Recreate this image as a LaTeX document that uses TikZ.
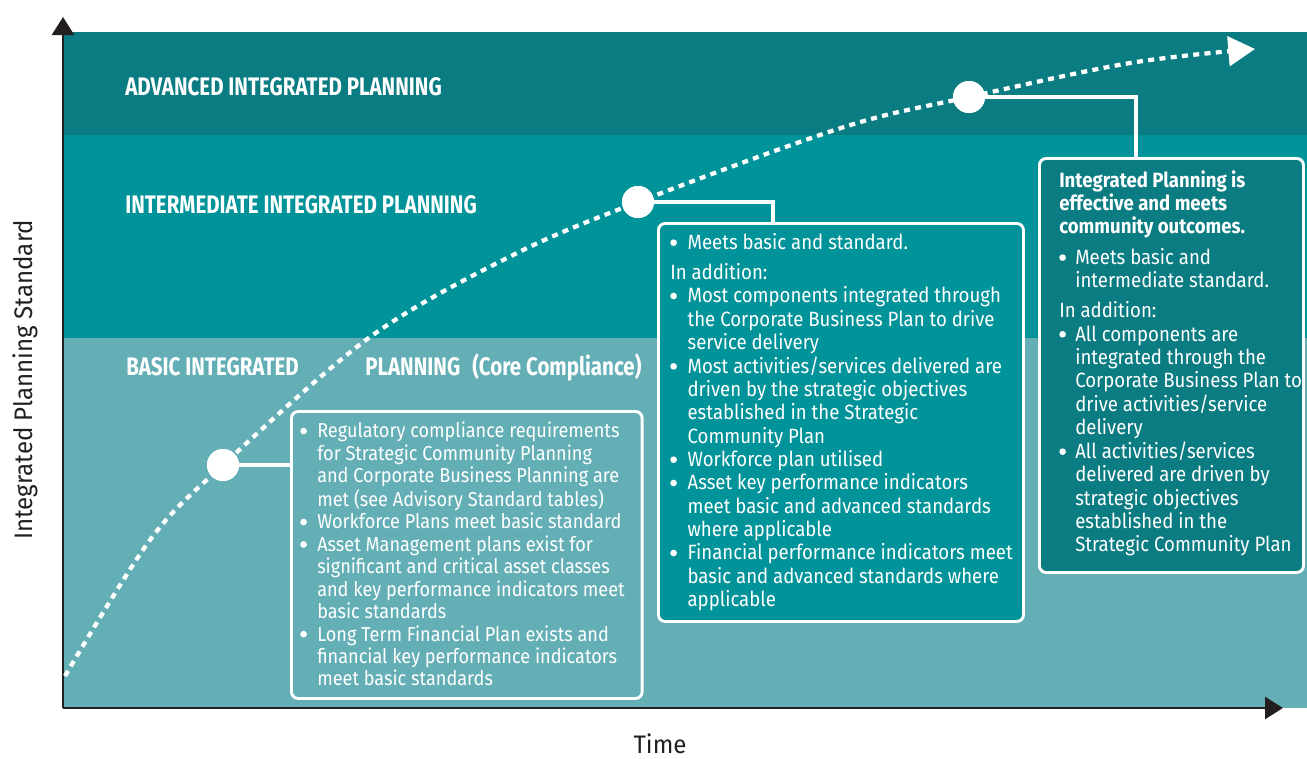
\documentclass[tikz,border=0pt]{standalone}
\usepackage{fontspec}
\setmainfont{Fira Sans}[FakeStretch=0.9]
\newfontfamily\bandfont{Fira Sans}[FakeStretch=0.81]
\newfontfamily\axisfont{Fira Sans}[FakeStretch=0.95]
\usetikzlibrary{arrows.meta}
\definecolor{bandtop}{RGB}{11,124,130}
\definecolor{bandmid}{RGB}{0,147,153}
\definecolor{bandlow}{RGB}{100,175,181}
\definecolor{axisk}{RGB}{35,31,32}
% round list marker
\newcommand\dotitem{\tikz[baseline={(0,-5.2pt)}]\fill[white] (0,0) circle (2.5pt);}
\begin{document}
\begin{tikzpicture}[x=0.75pt,y=-0.75pt,
  bandlabel/.style={text=white, anchor=base west, inner sep=0,
    font=\bandfont\bfseries\fontsize{19}{22}\selectfont},
  axislabel/.style={text=axisk, inner sep=0, font=\axisfont\fontsize{19}{22}\selectfont},
  axisline/.style={draw=axisk, line width=2pt, -{Triangle[length=13.5pt,width=16.5pt]}},
  stage/.style={circle, fill=white, inner sep=0, minimum size=24pt},
  link/.style={draw=white, line width=2.6pt},
  card/.style={draw=white, line width=2.2pt, rounded corners=5pt, anchor=north west, inner sep=0},
  cardtext/.style={text=white, anchor=north west, inner sep=0, align=left,
    font=\fontsize{15.5}{17.5}\selectfont},
  trend/.style={draw=white, line width=3.2pt, dash pattern=on 4.5pt off 4pt,
    -{Triangle[length=20pt,width=22pt,fill=white]}},
]
\useasboundingbox (0,0) rectangle (1307,758);

% background bands
\fill[bandtop] (63,32) rectangle (1307,135);
\fill[bandmid] (63,135) rectangle (1307,338);
\fill[bandlow] (63,338) rectangle (1307,708);

% band titles
\node[bandlabel] (tadv) at (125,95) {ADVANCED INTEGRATED PLANNING};
\node[bandlabel] (tint) at (125,213) {INTERMEDIATE INTEGRATED PLANNING};
\node[bandlabel] (tbas) at (126,375) {BASIC INTEGRATED};
\node[bandlabel] (tcore) at (365,375) {PLANNING\hspace{9pt}(Core Compliance)};

% axes
\coordinate (origin) at (63,708);
\coordinate (ytip) at (63,17);
\coordinate (xtip) at (1283,708);
\draw[axisline] (origin) -- (ytip);
\draw[axisline] (origin) -- (xtip);
\node[axislabel, rotate=90] (ylab) at (25,380) {Integrated Planning Standard};
\node[axislabel] (xlab) at (660,744) {Time};

% stage markers on the trend
\node[stage] (s1) at (223,465) {};
\node[stage] (s2) at (638,202) {};
\node[stage] (s3) at (969,97) {};
\coordinate (t0) at (65,676);
\coordinate (t1) at (150,540);
\coordinate (t2) at (370,337);
\coordinate (t3) at (513,255);
\coordinate (t4) at (844,127);
\coordinate (t5) at (1130,63);
\coordinate (tend) at (1255,49);
\draw[trend] plot[smooth, tension=0.55] coordinates
  {(t0) (t1) (s1.center) (t2) (t3) (s2.center) (t4) (s3.center) (t5) (tend)};
\node[stage] at (s1) {};
\node[stage] at (s2) {};
\node[stage] at (s3) {};

% description cards
\node[card, fill=bandlow, minimum width=263pt, minimum height=215.25pt] (b1) at (290,410) {};
\node[card, fill=bandmid, minimum width=273.75pt, minimum height=298.5pt] (b2) at (657,222) {};
\node[card, fill=bandtop, minimum width=198pt, minimum height=310.5pt] (b3) at (1038,157) {};

\draw[link] (s1.center) -- (s1 -| b1.west);
\draw[link] (s2.center) -| ([xshift=87pt]b2.north west);
\draw[link] (s3.center) -| ([xshift=73.5pt]b3.north west);

\node[cardtext, font=\fontsize{15.1}{16.8}\selectfont] (x1) at (300,422) {%
\begin{tabular}{@{}p{12.75pt}@{}l@{}}
\dotitem & Regulatory compliance requirements\\
 & for Strategic Community Planning\\
 & and Corporate Business Planning are\\
 & met (see Advisory Standard tables)\\
\dotitem & Workforce Plans meet basic standard\\
\dotitem & Asset Management plans exist for\\
 & significant and critical asset classes\\
 & and key performance indicators meet\\
 & basic standards\\
\dotitem & Long Term Financial Plan exists and\\
 & financial key performance indicators\\
 & meet basic standards
\end{tabular}};

\node[cardtext] (x2) at (670,233) {%
\begin{tabular}{@{}p{13pt}@{}l@{}}
\dotitem & Meets basic and standard.\\[5pt]
\multicolumn{2}{@{}l@{}}{In addition:}\\
\dotitem & Most components integrated through\\
 & the Corporate Business Plan to drive\\
 & service delivery\\
\dotitem & Most activities/services delivered are\\
 & driven by the strategic objectives\\
 & established in the Strategic\\
 & Community Plan\\
\dotitem & Workforce plan utilised\\
\dotitem & Asset key performance indicators\\
 & meet basic and advanced standards\\
 & where applicable\\
\dotitem & Financial performance indicators meet\\
 & basic and advanced standards where\\
 & applicable
\end{tabular}};

\node[cardtext] (x3) at (1059,170) {%
\begin{tabular}{@{}p{12pt}@{}l@{}}
\multicolumn{2}{@{}l@{}}{\bfseries Integrated Planning is}\\[-0.5pt]
\multicolumn{2}{@{}l@{}}{\bfseries effective and meets}\\[-0.5pt]
\multicolumn{2}{@{}l@{}}{\bfseries community outcomes.}\\[6pt]
\dotitem & Meets basic and\\
 & intermediate standard.\\[5pt]
\multicolumn{2}{@{}l@{}}{In addition:}\\
\dotitem & All components are\\
 & integrated through the\\
 & Corporate Business Plan to\\
 & drive activities/service\\
 & delivery\\
\dotitem & All activities/services\\
 & delivered are driven by\\
 & strategic objectives\\
 & established in the\\
 & Strategic Community Plan
\end{tabular}};
\end{tikzpicture}
\end{document}
